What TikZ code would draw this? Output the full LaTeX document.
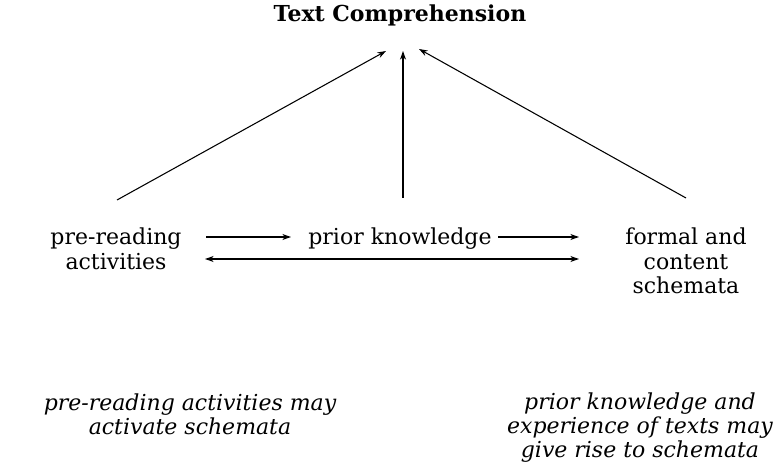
\documentclass[tikz,border=0pt]{standalone}
\usepackage{fontspec}
\setmainfont{DejaVu Serif}
\newfontfamily\notefont{DejaVu Serif}
\usetikzlibrary{arrows.meta}
\begin{document}
\begin{tikzpicture}[x=0.75pt,y=-0.75pt,
  label text/.style={font=\fontsize{16.5}{18.6}\selectfont, align=center, inner sep=1pt},
  note text/.style={font=\notefont\itshape\fontsize{16.5}{18.2}\selectfont, align=center, inner sep=1pt},
  title text/.style={font=\bfseries\fontsize{16.5}{18}\selectfont, inner sep=1pt},
  arr/.style={line width=0.8pt, -{Stealth[length=6.5pt,width=4.5pt]}},
  dblarr/.style={line width=0.8pt, {Stealth[length=6.5pt,width=4.5pt]}-{Stealth[length=6.5pt,width=4.5pt]}}]
  \useasboundingbox (0,0) rectangle (783,474);

  % main concepts
  \node[title text] (title) at (400,15) {Text Comprehension};
  \node[label text, anchor=north] (pre) at (116,226) {pre-reading\\activities};
  \node[label text, anchor=north] (prior) at (400,226) {prior knowledge};
  \node[label text, anchor=north] (schema) at (686,226) {formal and\\content\\schemata};

  % explanatory notes
  \node[note text, anchor=north] (note1) at (190,392) {pre-reading activities may\\activate schemata};
  \node[note text, anchor=north] (note2) at (640,391) {prior knowledge and\\experience of texts may\\give rise to schemata};

  % arrow ends below the title
  \coordinate (tl) at (386,51);
  \coordinate (tm) at (403,51);
  \coordinate (tr) at (419,49);
  \coordinate (pl) at (117,200);
  \coordinate (pm) at (403,198);
  \coordinate (pr) at (686,198);

  \draw[arr] (pl) -- (tl);
  \draw[arr] (pm) -- (tm);
  \draw[arr] (pr) -- (tr);

  % horizontal links between the concepts
  \coordinate (a1s) at (206,237);
  \coordinate (a1e) at (291,237);
  \coordinate (a2s) at (498,237);
  \coordinate (a2e) at (579,237);
  \coordinate (bs) at (205,259);
  \coordinate (be) at (579,259);
  \draw[arr] (a1s) -- (a1e);
  \draw[arr] (a2s) -- (a2e);
  \draw[dblarr] (bs) -- (be);
\end{tikzpicture}
\end{document}
